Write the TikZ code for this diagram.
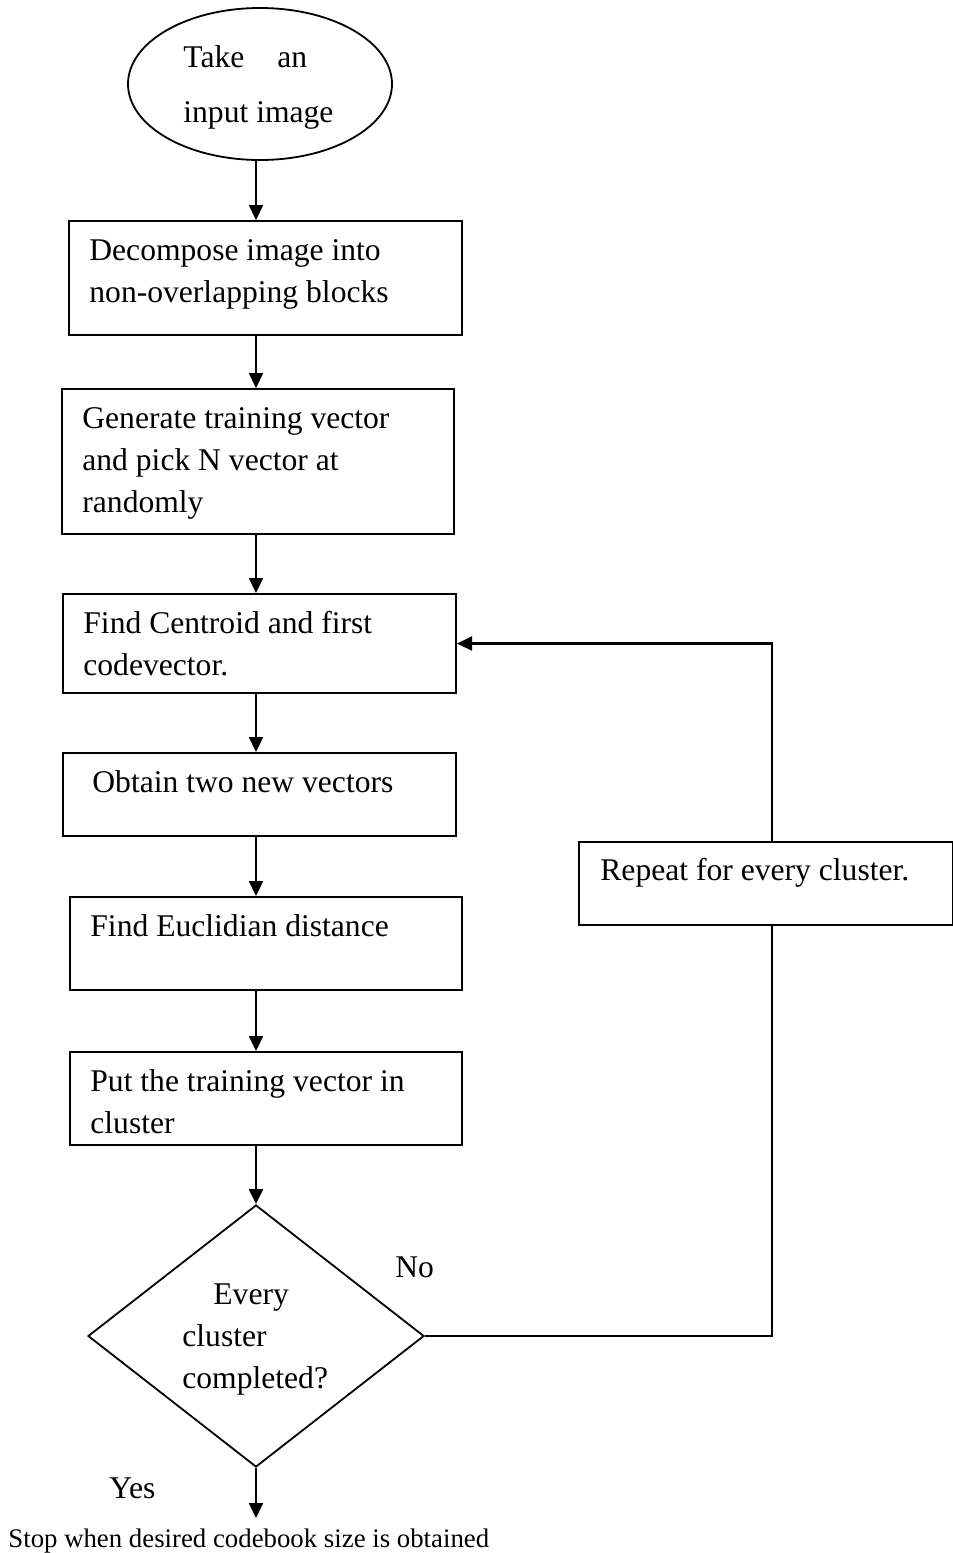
\documentclass[tikz,border=0pt]{standalone}
\usepackage{fontspec}
\setmainfont{Liberation Serif}
\usetikzlibrary{arrows.meta, shapes.geometric}

\begin{document}
\begin{tikzpicture}[
    x=0.5pt, y=-0.5pt,
    every node/.style={font=\fontsize{15.8}{21}\selectfont},
    box/.style={draw, line width=1pt, rectangle, anchor=north west, inner sep=0pt},
    txt/.style={anchor=base west, inner sep=0pt, align=left},
    flow/.style={->, line width=1.1pt},
    link/.style={line width=0.9pt},
    >={Triangle[length=7.5pt, width=7pt]}
]
\useasboundingbox (0,0) rectangle (953,1553);

% Helper coordinates
\coordinate (axis) at (256,0);
\coordinate (fb) at (772,0);

% Nodes (text nodes sit on the baseline of their last line)
\node[draw, ellipse, line width=0.9pt, minimum width=132pt, minimum height=76pt, inner sep=0pt] (take) at (260,84) {};
\node[txt] (takeTxt) at (183,122) {Take\hspace{16.5pt}an\\[6.5pt]input image};

\node[box, minimum width=196.5pt, minimum height=57pt] (decomp) at (68,220) {};
\node[txt] (decompTxt) at ([shift={(21,82)}]decomp.north west) {Decompose image into\\non-overlapping blocks};

\node[box, minimum width=196pt, minimum height=72.5pt] (gen) at (61,388) {};
\node[txt] (genTxt) at ([shift={(21,124)}]gen.north west) {Generate training vector\\and pick N vector at\\randomly};

\node[box, minimum width=196.5pt, minimum height=49.5pt] (centroid) at (62,593) {};
\node[txt] (centroidTxt) at ([shift={(21,82)}]centroid.north west) {Find Centroid and first\\codevector.};

\node[box, minimum width=196.5pt, minimum height=41.5pt] (obtain) at (62,752) {};
\node[txt] (obtainTxt) at ([shift={(30,40)}]obtain.north west) {Obtain two new vectors};

\node[box, minimum width=196pt, minimum height=46.5pt] (eucl) at (69,896) {};
\node[txt] (euclTxt) at ([shift={(21,40)}]eucl.north west) {Find Euclidian distance};

\node[box, minimum width=196pt, minimum height=46.5pt] (put) at (69,1051) {};
\node[txt] (putTxt) at ([shift={(21,82)}]put.north west) {Put the training vector in\\cluster};

\node[draw, diamond, line width=0.9pt, minimum width=168pt, minimum height=131pt, inner sep=0pt] (check) at (256,1336) {};
\node[txt] (checkTxt) at (182,1388) {\hspace*{15.5pt}Every\\cluster\\completed?};

\node[box, minimum width=187pt, minimum height=41.5pt] (repeat) at (578,841) {};
\node[txt] (repeatTxt) at ([shift={(22,39)}]repeat.north west) {Repeat for every cluster.};

\node[txt] (no) at (395,1277) {No};
\node[txt] (yes) at (109,1498) {Yes};
\node[txt, font=\fontsize{13.4}{16}\selectfont] (stop) at (8,1547) {Stop when desired codebook size is obtained};
\coordinate (yesEnd) at (256,1518);

% Arrows
\draw[flow] (take.south -| axis) -- (decomp.north -| axis);
\draw[flow] (decomp.south -| axis) -- (gen.north -| axis);
\draw[flow] (gen.south -| axis) -- (centroid.north -| axis);
\draw[flow] (centroid.south -| axis) -- (obtain.north -| axis);
\draw[flow] (obtain.south -| axis) -- (eucl.north -| axis);
\draw[flow] (eucl.south -| axis) -- (put.north -| axis);
\draw[flow] (put.south -| axis) -- (check.north);
\draw[flow] (check.south) -- (yesEnd);

% Loop back
\draw[link] (check.east) -| (repeat.south -| fb);
\draw[flow] (repeat.north -| fb) |- (centroid.east);

\end{tikzpicture}
\end{document}
